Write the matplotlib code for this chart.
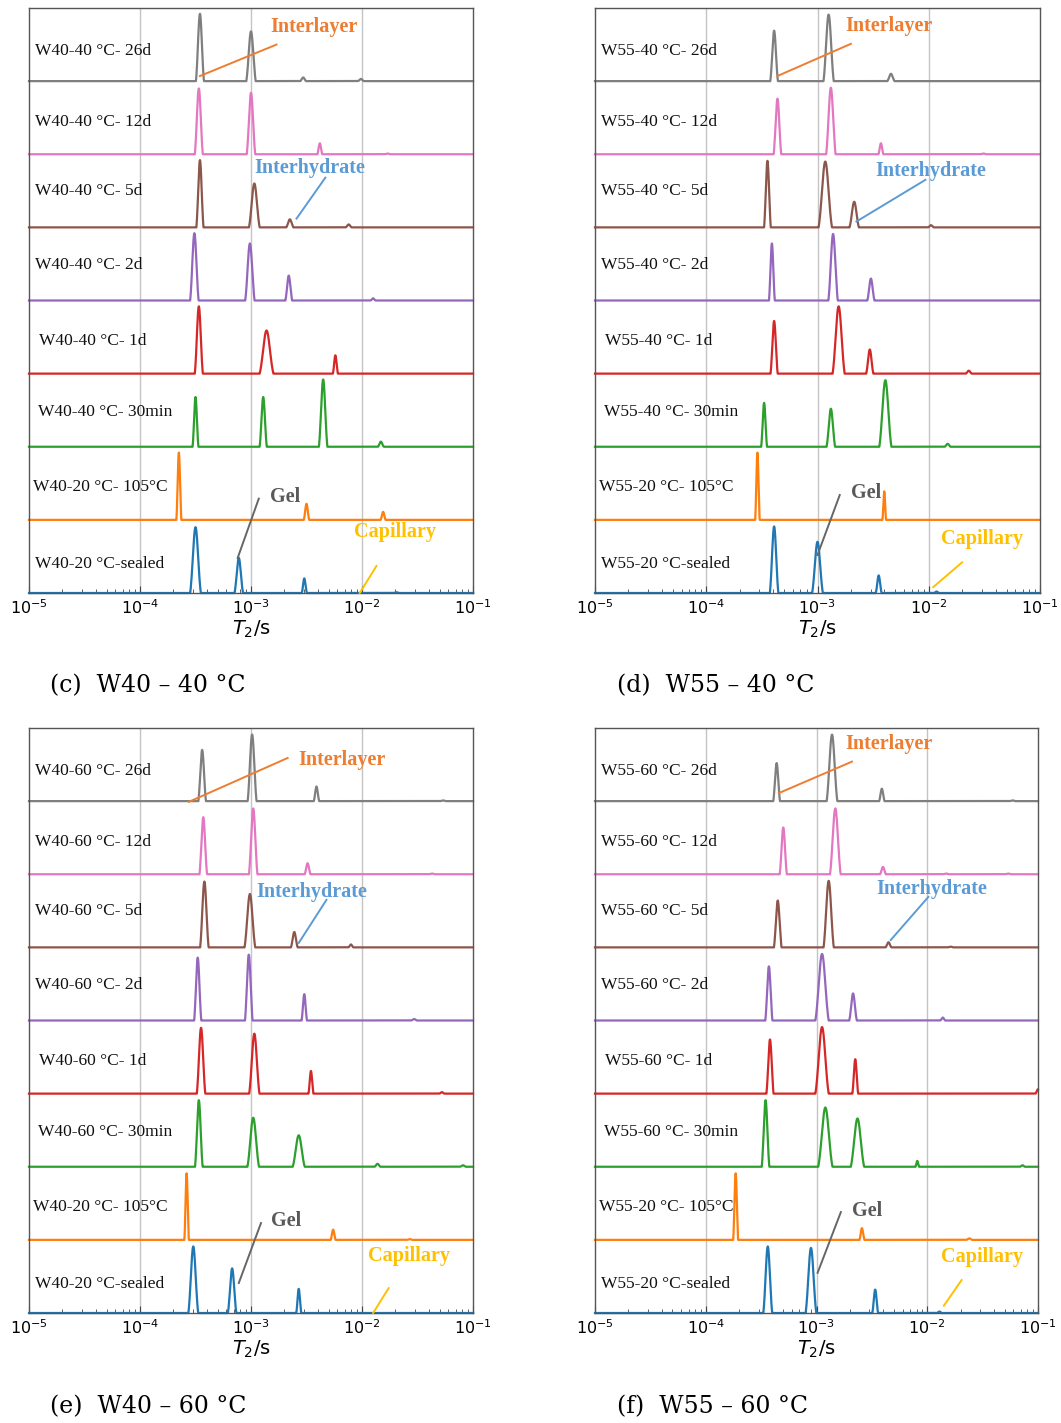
import numpy as np
import matplotlib
matplotlib.use("Agg")
import matplotlib.pyplot as plt

# ---------- Data ----------
# Each panel: 8 rows listed top to bottom. Each peak is (log10 T2, height, width),
# heights as a fraction of one row, widths in decades.

labels_c = ["W40-40 °C- 26d", "W40-40 °C- 12d", "W40-40 °C- 5d", "W40-40 °C- 2d",
            "W40-40 °C- 1d", "W40-40 °C- 30min", "W40-20 °C- 105°C", "W40-20 °C-sealed"]
labels_d = ["W55-40 °C- 26d", "W55-40 °C- 12d", "W55-40 °C- 5d", "W55-40 °C- 2d",
            "W55-40 °C- 1d", "W55-40 °C- 30min", "W55-20 °C- 105°C", "W55-20 °C-sealed"]
labels_e = ["W40-60 °C- 26d", "W40-60 °C- 12d", "W40-60 °C- 5d", "W40-60 °C- 2d",
            "W40-60 °C- 1d", "W40-60 °C- 30min", "W40-20 °C- 105°C", "W40-20 °C-sealed"]
labels_f = ["W55-60 °C- 26d", "W55-60 °C- 12d", "W55-60 °C- 5d", "W55-60 °C- 2d",
            "W55-60 °C- 1d", "W55-60 °C- 30min", "W55-20 °C- 105°C", "W55-20 °C-sealed"]

peaks_c = [
    [(-3.46, 0.92, 0.018), (-3.00, 0.68, 0.021), (-2.53, 0.05, 0.013), (-2.01, 0.03, 0.013)],
    [(-3.47, 0.90, 0.018), (-3.00, 0.84, 0.019), (-2.38, 0.15, 0.011), (-1.77, 0.01, 0.013)],
    [(-3.46, 0.92, 0.016), (-2.97, 0.60, 0.024), (-2.65, 0.11, 0.016), (-2.12, 0.04, 0.013)],
    [(-3.51, 0.92, 0.019), (-3.01, 0.78, 0.021), (-2.66, 0.34, 0.015), (-1.90, 0.03, 0.011)],
    [(-3.47, 0.92, 0.018), (-2.86, 0.59, 0.031), (-2.24, 0.25, 0.011)],
    [(-3.50, 0.68, 0.013), (-2.89, 0.68, 0.016), (-2.35, 0.92, 0.019), (-1.83, 0.07, 0.013)],
    [(-3.65, 0.92, 0.011), (-2.50, 0.22, 0.012), (-1.81, 0.11, 0.011)],
    [(-3.50, 0.90, 0.024), (-3.11, 0.48, 0.019), (-2.52, 0.20, 0.011), (-1.69, 0.01, 0.013)],
]
peaks_d = [
    [(-3.39, 0.69, 0.017), (-2.90, 0.91, 0.023), (-2.34, 0.10, 0.016)],
    [(-3.36, 0.76, 0.017), (-2.88, 0.91, 0.021), (-2.43, 0.15, 0.011), (-1.51, 0.01, 0.013)],
    [(-3.45, 0.91, 0.015), (-2.93, 0.90, 0.030), (-2.67, 0.35, 0.021), (-1.98, 0.03, 0.013)],
    [(-3.41, 0.78, 0.013), (-2.86, 0.91, 0.021), (-2.52, 0.30, 0.016)],
    [(-3.39, 0.72, 0.016), (-2.81, 0.92, 0.027), (-2.53, 0.33, 0.016), (-1.64, 0.04, 0.013)],
    [(-3.48, 0.60, 0.013), (-2.88, 0.52, 0.019), (-2.39, 0.91, 0.027), (-1.83, 0.04, 0.013)],
    [(-3.54, 0.92, 0.010), (-2.40, 0.39, 0.008)],
    [(-3.39, 0.91, 0.019), (-3.00, 0.70, 0.024), (-2.45, 0.24, 0.013), (-1.93, 0.02, 0.011)],
]
peaks_e = [
    [(-3.44, 0.70, 0.017), (-2.99, 0.91, 0.020), (-2.41, 0.20, 0.012), (-1.27, 0.01, 0.013)],
    [(-3.43, 0.78, 0.017), (-2.98, 0.90, 0.019), (-2.49, 0.15, 0.013), (-1.37, 0.01, 0.013)],
    [(-3.42, 0.90, 0.019), (-3.01, 0.73, 0.024), (-2.61, 0.21, 0.015), (-2.10, 0.04, 0.011)],
    [(-3.48, 0.86, 0.016), (-3.02, 0.90, 0.017), (-2.52, 0.36, 0.012), (-1.53, 0.02, 0.013)],
    [(-3.45, 0.90, 0.019), (-2.97, 0.82, 0.023), (-2.46, 0.31, 0.011), (-1.28, 0.02, 0.011)],
    [(-3.47, 0.91, 0.017), (-2.98, 0.67, 0.026), (-2.57, 0.43, 0.027), (-1.86, 0.04, 0.013),
     (-1.09, 0.02, 0.013)],
    [(-3.58, 0.91, 0.010), (-2.26, 0.14, 0.011), (-1.57, 0.01, 0.013)],
    [(-3.52, 0.91, 0.022), (-3.17, 0.61, 0.019), (-2.57, 0.33, 0.011)],
]
peaks_f = [
    [(-3.36, 0.52, 0.015), (-2.86, 0.91, 0.024), (-2.41, 0.17, 0.012), (-1.23, 0.01, 0.013)],
    [(-3.30, 0.64, 0.016), (-2.83, 0.90, 0.024), (-2.40, 0.10, 0.013), (-1.83, 0.01, 0.013),
     (-1.27, 0.01, 0.013)],
    [(-3.35, 0.64, 0.017), (-2.89, 0.91, 0.023), (-2.35, 0.07, 0.013), (-1.79, 0.01, 0.013)],
    [(-3.43, 0.74, 0.016), (-2.95, 0.91, 0.030), (-2.67, 0.37, 0.017), (-1.86, 0.04, 0.011)],
    [(-3.42, 0.74, 0.016), (-2.95, 0.91, 0.030), (-2.65, 0.47, 0.013), (-1.00, 0.06, 0.011)],
    [(-3.46, 0.91, 0.017), (-2.92, 0.81, 0.032), (-2.63, 0.66, 0.030), (-2.09, 0.08, 0.008),
     (-1.14, 0.02, 0.011)],
    [(-3.73, 0.91, 0.011), (-2.59, 0.16, 0.011), (-1.62, 0.02, 0.013)],
    [(-3.44, 0.91, 0.020), (-3.05, 0.89, 0.024), (-2.47, 0.32, 0.013), (-1.89, 0.02, 0.011)],
]

captions = ["(c)  W40 – 40 °C", "(d)  W55 – 40 °C", "(e)  W40 – 60 °C", "(f)  W55 – 60 °C"]

# ---------- Styles ----------
row_colors = ["#7f7f7f", "#e377c2", "#8c564b", "#9467bd",
              "#d62728", "#2ca02c", "#ff7f0e", "#1f77b4"]
label_dx = [0, 0, 0, 0, 4, 3, -2, 0]          # small pixel shifts of row labels
label_dy = [0.41, 0.44, 0.50, 0.49, 0.44, 0.47, 0.45, 0.40]

# annotation text and leader-line positions per panel: (log x, y) in row units
notes = {
    "c": {"Interlayer": ((-2.43, 7.74), (-2.77, 7.50), (-3.46, 7.07)),
          "Interhydrate": ((-2.47, 5.81), (-2.33, 5.68), (-2.59, 5.12)),
          "Gel": ((-2.69, 1.31), (-2.93, 1.29), (-3.12, 0.48)),
          "Capillary": ((-1.70, 0.83), (-1.87, 0.37), (-2.02, 0.00))},
    "d": {"Interlayer": ((-2.36, 7.76), (-2.70, 7.51), (-3.36, 7.07)),
          "Interhydrate": ((-1.98, 5.77), (-2.03, 5.65), (-2.65, 5.08)),
          "Gel": ((-2.56, 1.37), (-2.80, 1.34), (-3.00, 0.52)),
          "Capillary": ((-1.52, 0.74), (-1.70, 0.42), (-1.96, 0.08))},
    "e": {"Interlayer": ((-2.18, 7.56), (-2.67, 7.59), (-3.56, 6.99)),
          "Interhydrate": ((-2.45, 5.76), (-2.32, 5.65), (-2.57, 5.06)),
          "Gel": ((-2.68, 1.26), (-2.91, 1.23), (-3.11, 0.41)),
          "Capillary": ((-1.58, 0.78), (-1.76, 0.34), (-1.90, 0.00))},
    "f": {"Interlayer": ((-2.35, 7.78), (-2.68, 7.54), (-3.34, 7.11)),
          "Interhydrate": ((-1.96, 5.80), (-1.99, 5.69), (-2.33, 5.10)),
          "Gel": ((-2.54, 1.40), (-2.78, 1.38), (-2.99, 0.55)),
          "Capillary": ((-1.51, 0.77), (-1.69, 0.45), (-1.85, 0.10))},
}
note_text_color = {"Interlayer": "#ED7D31", "Interhydrate": "#5B9BD5",
                   "Gel": "#595959", "Capillary": "#FFC000"}
note_line_color = {"Interlayer": "#ED7D31", "Interhydrate": "#5B9BD5",
                   "Gel": "#666666", "Capillary": "#FFC000"}

W, H = 1061, 1423
axes_px = {"c": (29, 8, 444), "d": (595, 8, 445), "e": (29, 728, 444), "f": (595, 728, 443)}
AX_H = 585

logx = np.linspace(-5, -1, 6000)
CUT = np.exp(-2.0)   # bell truncated at 2 widths, so peaks sit on a sharp base


def spectrum(peaks):
    y = np.zeros_like(logx)
    for c, h, w in peaks:
        g = np.exp(-0.5 * ((logx - c) / w) ** 2)
        y += h * np.clip(g - CUT, 0, None) / (1 - CUT)
    return y


def draw_panel(key, labels, peaks):
    left, top, width = axes_px[key]
    ax = fig.add_axes([left / W, 1 - (top + AX_H) / H, width / W, AX_H / H])
    ax.set_xscale("log")
    ax.set_xlim(1e-5, 1e-1)
    ax.set_ylim(0, 8)
    ax.set_yticks([])
    for x in [1e-4, 1e-3, 1e-2]:
        ax.axvline(x, color="#c4c4c4", lw=1.0, zorder=0)

    for i, (lab, pk) in enumerate(zip(labels, peaks)):
        base = 7 - i
        ax.plot(10 ** logx, base + spectrum(pk), color=row_colors[i], lw=1.6,
                solid_joinstyle="round", zorder=2, clip_on=False)
        ax.text(0.0135 + label_dx[i] / width, (base + label_dy[i]) / 8, lab,
                transform=ax.transAxes, ha="left", va="center",
                family="Liberation Serif", fontsize=12.5, color="#111111")

    for name, (txt, p0, p1) in notes[key].items():
        ax.plot([10 ** p0[0], 10 ** p1[0]], [p0[1], p1[1]], color=note_line_color[name],
                lw=1.4, zorder=3, clip_on=False)
        ax.text(10 ** txt[0], txt[1], name, ha="center", va="center",
                family="Liberation Serif", fontweight="bold", fontsize=14.5,
                color=note_text_color[name], zorder=4)

    for s in ax.spines.values():
        s.set_color("#555555")
        s.set_linewidth(1.0)
    ax.tick_params(axis="x", which="both", direction="in", top=False, colors="#444444",
                   labelcolor="black", labelsize=11.5, pad=4)
    ax.tick_params(axis="x", which="major", length=5)
    ax.tick_params(axis="x", which="minor", length=3)
    ax.set_xlabel("$T_2$/s", fontsize=14, labelpad=1)
    return ax


fig = plt.figure(figsize=(W / 100, H / 100), dpi=100)

draw_panel("c", labels_c, peaks_c)
draw_panel("d", labels_d, peaks_d)
draw_panel("e", labels_e, peaks_e)
draw_panel("f", labels_f, peaks_f)

# ---------- Captions ----------
cap_pos = [(50, 686), (617, 686), (50, 1407), (617, 1407)]
for (x, y), cap in zip(cap_pos, captions):
    fig.text(x / W, 1 - y / H, cap, ha="left", va="center",
             family="DejaVu Serif", fontsize=17)

fig.savefig("out.png", dpi=100)
